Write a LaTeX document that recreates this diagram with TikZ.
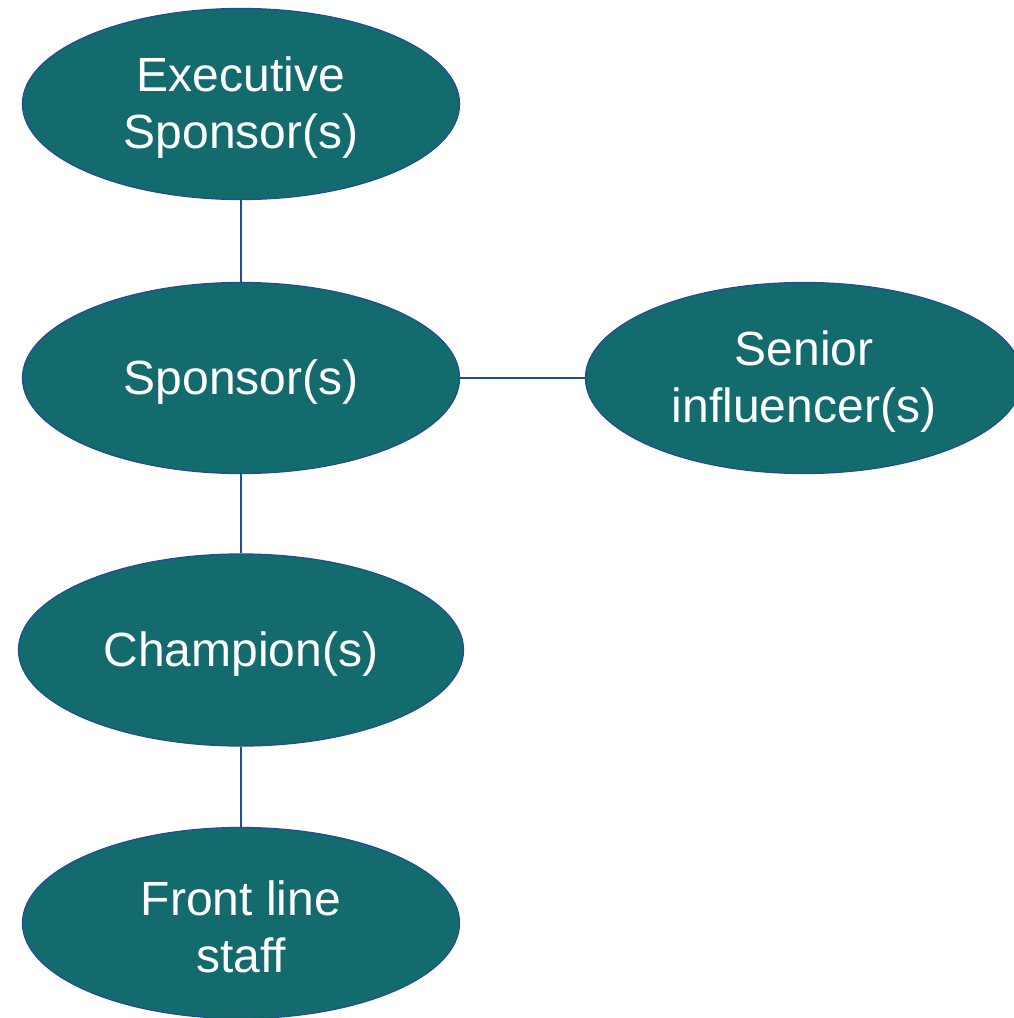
\documentclass[tikz,border=0pt]{standalone}
\usepackage{fontspec}
\setmainfont{Liberation Sans}
\usetikzlibrary{shapes.geometric}
\definecolor{tealfill}{HTML}{146B6E}
\definecolor{edgeblue}{HTML}{1F4E96}
\tikzset{
  role/.style={ellipse, draw=edgeblue, line width=1.3pt, fill=tealfill,
    inner sep=0pt, minimum width=437pt, minimum height=191pt},
  caption/.style={label={[text=white, align=center, yshift=-4pt,
    font=\fontsize{48pt}{57pt}\selectfont]center:#1}},
  link/.style={draw=edgeblue, line width=2pt}
}
\begin{document}
\begin{tikzpicture}[x=1pt,y=-1pt]
\useasboundingbox (0,0) rectangle (1014,1018);
\clip (0,0) rectangle (1014,1018);
\node[role, caption={Executive\\Sponsor(s)}] (exec) at (241,104) {};
\node[role, caption={Sponsor(s)}] (spon) at (241,378) {};
\node[role, caption={Senior\\influencer(s)}] (senior) at (804,378) {};
\node[role, minimum width=445pt, minimum height=192pt, caption={Champion(s)}] (champ) at (241,650) {};
\node[role, caption={Front line\\staff}] (front) at (241,923) {};
\draw[link] (exec.south) -- (spon.north);
\draw[link] (spon.east) -- (senior.west);
\draw[link] (spon.south) -- (champ.north);
\draw[link] (champ.south) -- (front.north);
\end{tikzpicture}
\end{document}
